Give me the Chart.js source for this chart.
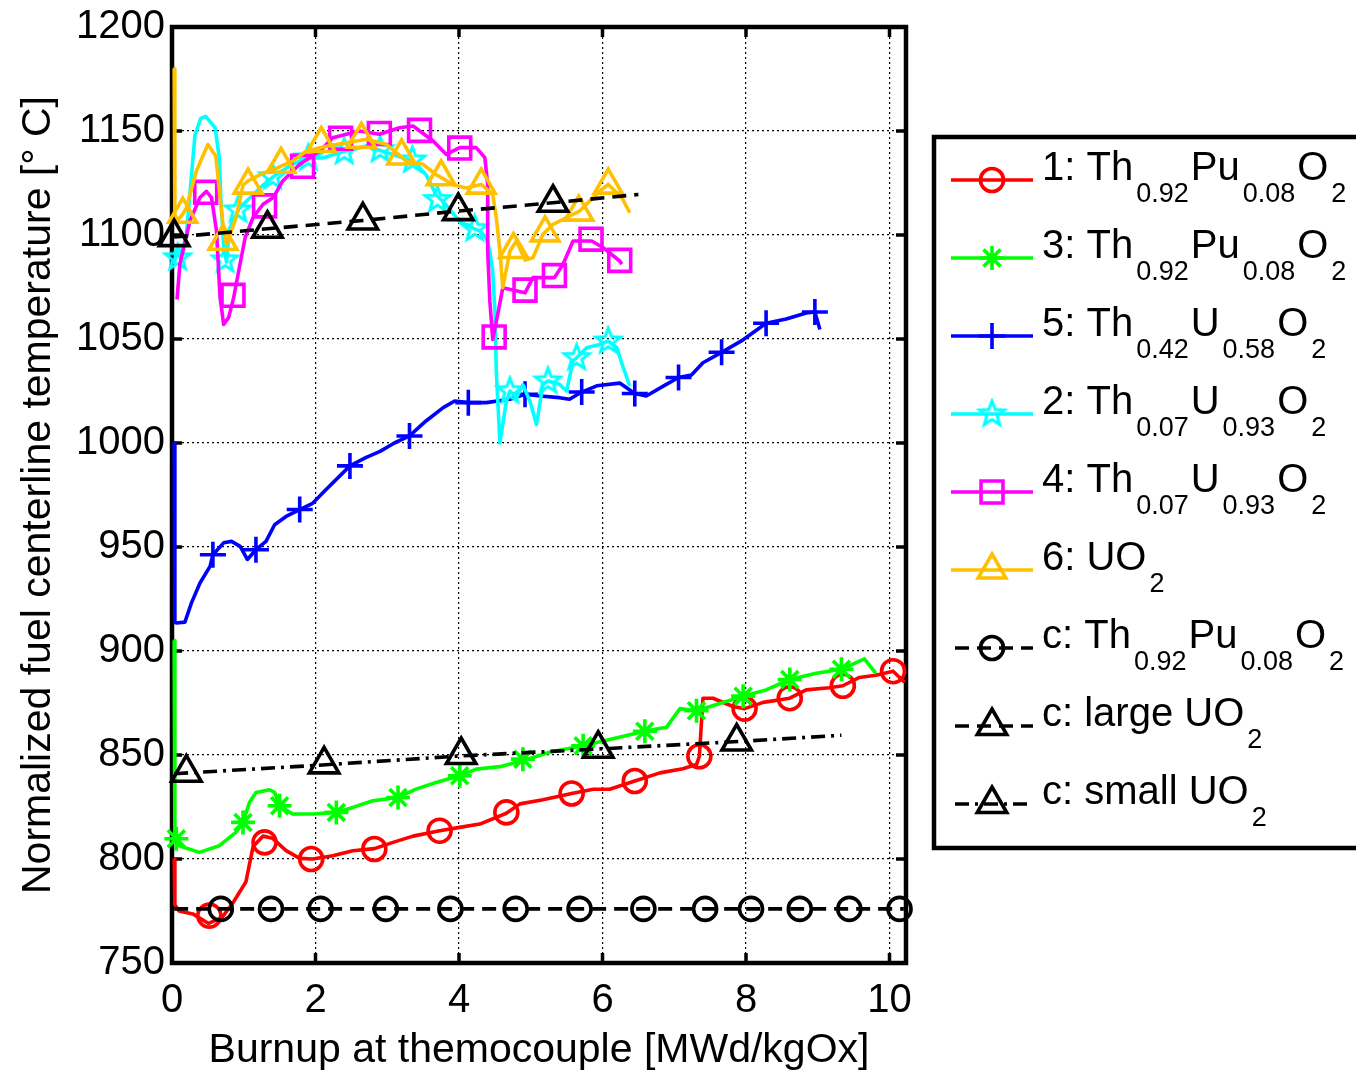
<!DOCTYPE html>
<html><head><meta charset="utf-8">
<script src="https://cdn.jsdelivr.net/npm/chart.js@4.4.0/dist/chart.umd.min.js"></script>
<style>html,body{margin:0;padding:0;background:#fff;overflow:hidden}#wrap{position:relative;width:1356px;height:1077px}</style>
</head><body><div id="wrap"><canvas id="c" width="1356" height="1077"></canvas></div>
<script>
// ---------- tick labels ----------
const xTicks = [0, 2, 4, 6, 8, 10];
const yTicks = [750, 800, 850, 900, 950, 1000, 1050, 1100, 1150, 1200];

// ---------- 1: Th0.92Pu0.08O2 (red) ----------
const s1X = [0.03,0.04,0.1,0.29,0.51,0.7,0.85,1.03,1.13,1.27,1.40,1.59,1.78,1.96,2.24,2.52,2.82,3.08,3.36,3.73,4.01,4.29,4.66,4.85,5.17,5.57,5.87,6.10,6.45,6.80,7.12,7.31,7.35,7.40,7.54,7.82,7.98,8.24,8.61,8.84,9.16,9.35,9.58,9.81,10.05,10.21];
const s1Y = [800,778,775,773.6,769,772,779,789,806,811,810,804,800.3,800,801.6,804,805,808,811,813.6,815.2,816.8,822,826.5,828.5,831.5,833.5,833.5,837.5,841.4,843.4,845.4,849.4,877.3,877.3,873.3,872.3,875.3,877.3,881.3,882.3,883.3,887.3,888.3,890.3,885];
const s1MX = [0.52,1.29,1.94,2.82,3.73,4.66,5.57,6.45,7.35,7.98,8.61,9.35,10.05];
const s1MY = [772.8,808,800,804.8,813.6,822.4,831.5,837.5,849.4,872.3,877.3,883.3,890.3];

// ---------- 3: Th0.92Pu0.08O2 (green) ----------
const s3X = [0.03,0.04,0.06,0.10,0.38,0.66,0.89,0.99,1.08,1.17,1.36,1.43,1.50,1.68,1.96,2.29,2.52,2.80,3.15,3.40,3.68,4.01,4.24,4.57,4.90,5.27,5.73,6.10,6.59,6.89,7.08,7.31,7.59,7.96,8.28,8.61,8.98,9.33,9.65,9.81];
const s3Y = [905,812,809.7,806.4,803.2,806.4,812.8,817.6,827.2,832,833.3,832,825.6,821.6,821.6,822.4,824.8,828,829.6,833.6,836.8,840,843.2,844.4,847.4,851.4,854.4,857.4,861.4,863.3,872.3,871.3,874.3,878.3,881.3,886.3,889.3,891.2,896.2,889.3];
const s3MX = [0.06,0.99,1.50,2.29,3.15,4.01,4.89,5.73,6.59,7.31,7.96,8.61,9.33];
const s3MY = [809.7,817.6,825.6,822.4,829.6,840,848,854.4,861.4,871.3,878.3,886.3,891.2];

// ---------- 5: Th0.42U0.58O2 (blue) ----------
const s5X = [0.03,0.04,0.06,0.18,0.27,0.39,0.53,0.57,0.72,0.83,0.95,1.05,1.17,1.31,1.43,1.59,1.78,1.96,2.13,2.48,2.70,2.90,3.10,3.31,3.54,3.78,3.94,4.13,4.38,4.71,4.92,5.13,5.40,5.54,5.71,5.92,6.24,6.45,6.61,6.89,7.06,7.24,7.40,7.66,7.96,8.28,8.56,8.84,8.96,9.03];
const s5Y = [1000,914,913.5,913.9,923,932.7,940.7,946.3,952,952.7,950.3,944,948.7,952.7,960.7,964.7,968,971,977,989,993,996,1000,1003.4,1010.6,1017,1020.2,1019.4,1019.4,1021,1023.4,1022.6,1021.8,1021,1024.5,1027.5,1028.8,1023.8,1022.6,1028.2,1031.5,1032.7,1038.6,1043.6,1049.6,1057.6,1059.6,1062.5,1063,1054.6];
const s5MX = [0.57,1.17,1.78,2.48,3.31,4.13,4.92,5.71,6.45,7.06,7.66,8.28,8.96];
const s5MY = [946.3,948.7,968,989,1003.4,1019.4,1023.4,1024.5,1023.8,1031.5,1043.6,1057.6,1063];

// ---------- 2: Th0.07U0.93O2 (cyan) ----------
const s2X = [0.03,0.06,0.12,0.20,0.25,0.32,0.40,0.47,0.60,0.66,0.68,0.72,0.76,0.80,0.94,1.08,1.27,1.45,1.68,1.87,2.10,2.38,2.71,3.08,3.36,3.54,3.68,3.82,4.01,4.20,4.29,4.38,4.43,4.47,4.50,4.52,4.57,4.66,4.71,4.80,4.89,4.99,5.08,5.17,5.24,5.40,5.50,5.59,5.64,5.78,5.96,6.08,6.20,6.29,6.38];
const s2Y = [1086,1092,1089,1100,1120,1148,1156,1157,1151.6,1137,1118,1095,1087,1103,1113,1117.7,1124,1129,1134,1137,1137,1140,1142.7,1138.7,1135.5,1129,1119.4,1114.5,1106.4,1103.2,1102,1098.7,1092.3,1082.7,1063.4,1034.6,1000,1020,1025,1021.8,1028,1020,1008.9,1028.2,1029.8,1028.2,1025,1039.4,1041,1045.8,1047.4,1049,1045.8,1036.2,1027.4];
const s2MX = [0.08,0.74,0.92,1.40,1.90,2.40,2.90,3.35,3.70,4.22,4.71,5.24,5.64,6.08];
const s2MY = [1089,1088,1112,1128,1137,1140,1141,1136,1117,1103,1025,1029.8,1041,1049];

// ---------- 4: Th0.07U0.93O2 (magenta) ----------
const s4X = [0.07,0.11,0.25,0.39,0.48,0.55,0.62,0.67,0.72,0.79,0.86,0.93,1.02,1.13,1.27,1.41,1.54,1.78,2.06,2.24,2.61,2.89,3.17,3.36,3.64,3.82,4.01,4.24,4.36,4.40,4.40,4.43,4.47,4.54,4.61,4.92,5.03,5.33,5.45,5.59,5.85,6.01,6.24,6.27];
const s4Y = [1069,1086,1106.8,1118,1121,1118,1102,1070,1057,1060.4,1070,1082.8,1098.8,1108.4,1114.8,1118,1125.8,1134,1140.3,1146.8,1150,1148.4,1151.6,1152.4,1145.2,1138.8,1142,1142,1137.2,1124.4,1092.3,1068.2,1049.8,1061.8,1074.6,1072.2,1079.5,1079.5,1085.9,1097.1,1097.1,1093.9,1087.5,1086];
const s4MX = [0.47,0.85,1.29,1.82,2.35,2.89,3.45,4.01,4.49,4.92,5.33,5.84,6.24];
const s4MY = [1120.5,1071,1114,1133,1146.5,1148.8,1150.3,1141.8,1051,1073.5,1080.5,1098,1087.8];

// ---------- 6: UO2 (yellow) ----------
const s6X = [0.03,0.04,0.07,0.15,0.20,0.34,0.50,0.61,0.68,0.72,0.76,0.89,0.99,1.06,1.23,1.45,1.68,1.87,2.15,2.43,2.71,2.99,3.27,3.50,3.68,3.92,4.10,4.31,4.47,4.52,4.57,4.61,4.71,4.80,4.92,5.03,5.17,5.31,5.68,5.96,6.08,6.27,6.38];
const s6Y = [1180,1110,1106.8,1110,1113,1130.8,1143.5,1138,1115,1102,1095.6,1108,1124,1126,1129,1132,1135.5,1140.3,1142.7,1144.4,1146,1143.5,1135.5,1134,1129,1124.2,1122.6,1124.3,1119.5,1108.3,1092.3,1074.7,1092.3,1097.1,1088,1089.1,1100.3,1105.1,1111.5,1121.1,1124.3,1117.9,1110.7];
const s6MX = [0.15,0.71,1.06,1.52,2.08,2.64,3.20,3.75,4.31,4.76,5.20,5.67,6.08];
const s6MY = [1110,1097,1124,1134,1144,1146,1138,1128,1124,1093,1101,1111,1124];

// ---------- c: Th0.92Pu0.08O2 (black dashed, circles) ----------
const cPuX = [0.03, 10.2];
const cPuY = [776, 776];
const cPuMX = [0.68,1.38,2.07,2.98,3.88,4.79,5.68,6.57,7.43,8.07,8.75,9.44,10.14];
const cPuMY = [776,776,776,776,776,776,776,776,776,776,776,776,776];

// ---------- c: large UO2 (black dashed, triangles) ----------
const cLX = [0.03,1.33,2.66,3.99,5.31,6.50];
const cLY = [1099,1103,1107,1111.5,1115.5,1119.5];
const cLMX = [0.03,1.33,2.66,3.99,5.31];
const cLMY = [1099,1103,1107,1111.5,1115.5];

// ---------- c: small UO2 (black dash-dot, triangles) ----------
const cSX = [0.03,2.0,4.0,6.0,7.9,9.33];
const cSY = [841,845,849.5,853,856.5,859.5];
const cSMX = [0.2,2.12,4.03,5.94,7.87];
const cSMY = [841.5,845.5,850,853,856.5];

// ---------- legend text (main / subscript alternating) ----------
const legendText = [
  ['1: Th','0.92','Pu','0.08','O','2'],
  ['3: Th','0.92','Pu','0.08','O','2'],
  ['5: Th','0.42','U','0.58','O','2'],
  ['2: Th','0.07','U','0.93','O','2'],
  ['4: Th','0.07','U','0.93','O','2'],
  ['6: UO','2'],
  ['c: Th','0.92','Pu','0.08','O','2'],
  ['c: large UO','2'],
  ['c: small UO','2']
];

const FONT = "'Liberation Sans', Arial, Helvetica, sans-serif";
Chart.defaults.font.family = FONT;
Chart.defaults.color = '#000';

function makePentagram(color, R, lw) {
  const s = Math.ceil(2 * R + lw + 4);
  const c = document.createElement('canvas');
  c.width = s; c.height = s;
  const g = c.getContext('2d');
  g.strokeStyle = color; g.lineWidth = lw; g.lineJoin = 'miter';
  g.beginPath();
  for (let i = 0; i < 10; i++) {
    const r = (i % 2) ? R * 0.42 : R;
    const a = -Math.PI / 2 + i * Math.PI / 5;
    const px = s / 2 + r * Math.cos(a), py = s / 2 + r * Math.sin(a);
    if (i) g.lineTo(px, py); else g.moveTo(px, py);
  }
  g.closePath(); g.stroke();
  return c;
}
const pentImg = makePentagram('#00ffff', 13, 3);

const LW = 3.6;
const defs = [
  {label:'1: Th0.92Pu0.08O2', color:'#ff0000', lx:s1X, ly:s1Y, mx:s1MX, my:s1MY, style:'circle', r:11.5, dash:[]},
  {label:'3: Th0.92Pu0.08O2', color:'#00ff00', lx:s3X, ly:s3Y, mx:s3MX, my:s3MY, style:'star', r:12, dash:[]},
  {label:'5: Th0.42U0.58O2', color:'#0000ff', lx:s5X, ly:s5Y, mx:s5MX, my:s5MY, style:'cross', r:13, dash:[]},
  {label:'2: Th0.07U0.93O2', color:'#00ffff', lx:s2X, ly:s2Y, mx:s2MX, my:s2MY, style:pentImg, r:13, dash:[]},
  {label:'4: Th0.07U0.93O2', color:'#ff00ff', lx:s4X, ly:s4Y, mx:s4MX, my:s4MY, style:'rect', r:15.5, dash:[]},
  {label:'6: UO2', color:'#ffc000', lx:s6X, ly:s6Y, mx:s6MX, my:s6MY, style:'triangle', r:16, dash:[]},
  {label:'c: Th0.92Pu0.08O2', color:'#000000', lx:cPuX, ly:cPuY, mx:cPuMX, my:cPuMY, style:'circle', r:11.5, dash:[14,8]},
  {label:'c: large UO2', color:'#000000', lx:cLX, ly:cLY, mx:cLMX, my:cLMY, style:'triangle', r:17, dash:[14,8]},
  {label:'c: small UO2', color:'#000000', lx:cSX, ly:cSY, mx:cSMX, my:cSMY, style:'triangle', r:17, dash:[14,6,3,6]}
];

const datasets = [];
defs.forEach((d, k) => {
  datasets.push({
    label: d.label,
    data: d.lx.map((x, i) => ({x: x, y: d.ly[i]})),
    borderColor: d.color, borderWidth: LW, borderDash: d.dash,
    borderJoinStyle: 'round', borderCapStyle: 'butt',
    pointRadius: 0, fill: false, tension: 0, order: 100 - 2 * k
  });
  datasets.push({
    label: d.label + ' markers',
    data: d.mx.map((x, i) => ({x: x, y: d.my[i]})),
    showLine: false, pointStyle: d.style, pointRadius: d.r,
    pointBorderColor: d.color, pointBackgroundColor: 'rgba(0,0,0,0)', pointBorderWidth: LW,
    borderColor: d.color, clip: false, order: 99 - 2 * k
  });
});

function drawMarker(ctx, style, x, y, r, color) {
  ctx.save();
  ctx.strokeStyle = color; ctx.lineWidth = LW; ctx.setLineDash([]);
  ctx.beginPath();
  if (style instanceof HTMLCanvasElement) {
    ctx.drawImage(style, x - style.width / 2, y - style.height / 2);
  } else if (style === 'circle') {
    ctx.arc(x, y, r, 0, Math.PI * 2);
  } else if (style === 'cross' || style === 'star') {
    ctx.moveTo(x, y - r); ctx.lineTo(x, y + r);
    ctx.moveTo(x - r, y); ctx.lineTo(x + r, y);
    if (style === 'star') {
      const d = r * Math.SQRT1_2;
      ctx.moveTo(x - d, y - d); ctx.lineTo(x + d, y + d);
      ctx.moveTo(x - d, y + d); ctx.lineTo(x + d, y - d);
    }
  } else if (style === 'rect') {
    const s = r * Math.SQRT1_2;
    ctx.rect(x - s, y - s, 2 * s, 2 * s);
  } else if (style === 'triangle') {
    let a = 0;
    ctx.moveTo(x + Math.sin(a) * r, y - Math.cos(a) * r);
    a += 2 * Math.PI / 3; ctx.lineTo(x + Math.sin(a) * r, y - Math.cos(a) * r);
    a += 2 * Math.PI / 3; ctx.lineTo(x + Math.sin(a) * r, y - Math.cos(a) * r);
    ctx.closePath();
  }
  ctx.stroke();
  ctx.restore();
}

const framePlugin = {
  id: 'frame',
  beforeDatasetsDraw(chart) {
    const {ctx, chartArea: {left, right, top, bottom}} = chart;
    const xs = chart.scales.x, ys = chart.scales.y;
    ctx.save();
    ctx.strokeStyle = '#000';
    ctx.lineWidth = 4.5;
    ctx.strokeRect(left, top, right - left, bottom - top);
    ctx.lineWidth = 3.5;
    ctx.beginPath();
    xTicks.forEach(v => {
      const p = xs.getPixelForValue(v);
      ctx.moveTo(p, bottom); ctx.lineTo(p, bottom - 10);
      ctx.moveTo(p, top); ctx.lineTo(p, top + 10);
    });
    yTicks.forEach(v => {
      const p = ys.getPixelForValue(v);
      ctx.moveTo(left, p); ctx.lineTo(left + 10, p);
      ctx.moveTo(right, p); ctx.lineTo(right - 10, p);
    });
    ctx.stroke();
    ctx.restore();
  }
};

const legendPlugin = {
  id: 'legend2',
  afterDraw(chart) {
    const ctx = chart.ctx;
    ctx.save();
    ctx.fillStyle = '#fff';
    ctx.fillRect(934, 137, 440, 711);
    ctx.strokeStyle = '#000'; ctx.lineWidth = 4.5;
    ctx.strokeRect(934, 137, 440, 711);
    defs.forEach((d, i) => {
      const y = 180 + 78 * i;
      ctx.save();
      ctx.strokeStyle = d.color; ctx.lineWidth = LW;
      ctx.setLineDash(d.dash);
      ctx.beginPath();
      ctx.moveTo(d.dash.length ? 955 : 951, y); ctx.lineTo(1033, y);
      ctx.stroke();
      ctx.restore();
      drawMarker(ctx, d.style, 992, y, d.r, d.color);
      let x = 1042;
      ctx.fillStyle = '#000'; ctx.textBaseline = 'alphabetic'; ctx.textAlign = 'left';
      legendText[i].forEach((t, k) => {
        const sub = (k % 2) === 1;
        ctx.font = (sub ? '27px ' : '40px ') + FONT;
        if (sub) x += 3;
        ctx.fillText(t, x, sub ? y + 22 : y);
        x += ctx.measureText(t).width + (sub ? 2 : 0);
      });
    });
    ctx.restore();
  }
};

new Chart(document.getElementById('c'), {
  type: 'line',
  data: {datasets: datasets},
  options: {
    responsive: false, animation: false, devicePixelRatio: 1, events: [],
    layout: {padding: {top: 25, right: 450, bottom: 0, left: 0}},
    plugins: {legend: {display: false}, tooltip: {enabled: false}},
    scales: {
      x: {
        type: 'linear', min: 0, max: 10.23,
        afterBuildTicks: s => { s.ticks = xTicks.map(v => ({value: v})); },
        afterFit: s => { s.height = 114; },
        grid: {color: '#000', lineWidth: 1.2, drawTicks: false},
        border: {display: false, dash: [2, 3]},
        ticks: {font: {size: 40}, color: '#000', padding: 14, maxRotation: 0, autoSkip: false,
                callback: v => String(v)},
        title: {display: true, text: 'Burnup at themocouple [MWd/kgOx]', color: '#000',
                font: {size: 41, lineHeight: 1}, padding: {top: 0, bottom: 6}}
      },
      y: {
        type: 'linear', min: 750, max: 1200,
        afterBuildTicks: s => { s.ticks = yTicks.map(v => ({value: v})); },
        afterFit: s => { s.width = 172; },
        grid: {color: '#000', lineWidth: 1.2, drawTicks: false},
        border: {display: false, dash: [2, 3]},
        ticks: {font: {size: 40, lineHeight: 1}, color: '#000', padding: 7,
                callback: v => String(v)},
        title: {display: true, text: 'Normalized fuel centerline temperature [° C]', color: '#000',
                font: {size: 41, lineHeight: 1}, padding: {top: 18, bottom: 0}}
      }
    }
  },
  plugins: [framePlugin, legendPlugin]
});
</script></body></html>
